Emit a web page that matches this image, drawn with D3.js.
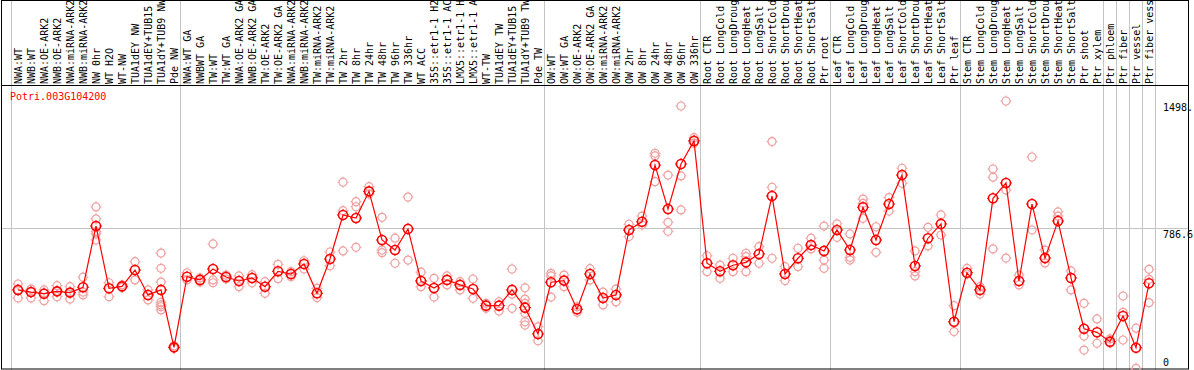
<!DOCTYPE html>
<html>
<head>
<meta charset="utf-8">
<script src="https://cdn.jsdelivr.net/npm/d3@7"></script>
<style>
  body { margin: 0; background: #fff; }
  svg { display: block; }
  text { font-family: "DejaVu Sans Mono", "Liberation Mono", monospace; font-size: 10px; }
</style>
</head>
<body>
<div class="expr"></div>
<script>
// gene plotted
var geneId = "Potri.003G104200";

// sample names, left to right (as far as they show in the header)
var samples = [
  "NWA:WT", "NWB:WT", "NWA:OE-ARK2", "NWB:OE-ARK2", "NWA:miRNA-ARK2", "NWB:miRNA-ARK2",
  "NW 0hr", "WT H2O", "WT-NW", "TUA1dEY NW", "TUA1dEY+TUB15", "TUA1dY+TUB9 NW", "Pde NW",
  "NWA:WT GA", "NWBWT GA", "TW:WT", "TW:WT GA", "NWA:OE-ARK2 GA", "NWB:OE-ARK2 GA",
  "TW:OE-ARK2", "TW:OE-ARK2 GA", "NWA:miRNA-ARK2", "NWB:miRNA-ARK2", "TW:miRNA-ARK2",
  "TW:miRNA-ARK2", "TW 2hr", "TW 8hr", "TW 24hr", "TW 48hr", "TW 96hr", "TW 336hr",
  "WT ACC", "35S::etr1-1 H2", "35S::etr1-1 AC", "LMX5::etr1-1 H", "LMX5::etr1-1 A",
  "WT-TW", "TUA1dEY TW", "TUA1dEY+TUB15", "TUA1dY+TUB9 TW", "Pde TW",
  "OW:WT", "OW:WT GA", "OW:OE-ARK2", "OW:OE-ARK2 GA", "OW:miRNA-ARK2", "OW:miRNA-ARK2",
  "OW 2hr", "OW 8hr", "OW 24hr", "OW 48hr", "OW 96hr", "OW 336hr",
  "Root CTR", "Root LongCold", "Root LongDroug", "Root LongHeat", "Root LongSalt",
  "Root ShortCold", "Root ShortDrou", "Root ShortHeat", "Root ShortSalt", "Ptr root",
  "Leaf CTR", "Leaf LongCold", "Leaf LongDroug", "Leaf LongHeat", "Leaf LongSalt",
  "Leaf ShortCold", "Leaf ShortDrou", "Leaf ShortHeat", "Leaf ShortSalt", "Ptr leaf",
  "Stem CTR", "Stem LongCold", "Stem LongDroug", "Stem LongHeat", "Stem LongSalt",
  "Stem ShortCold", "Stem ShortDrou", "Stem ShortHeat", "Stem ShortSalt", "Ptr shoot",
  "Ptr xylem", "Ptr phloem", "Ptr fiber", "Ptr vessel", "Ptr fiber vess"
];

// mean expression per sample
var means = [
  442, 430, 421, 434, 427, 457, 799, 451, 462, 553, 414, 442, 121,
  516, 498, 559, 514, 492, 509, 460, 546, 531, 587, 423, 615, 861, 844, 993,
  721, 665, 783, 492, 453, 498, 470, 447, 354, 354, 442, 343, 196,
  485, 494, 334, 531, 397, 414, 777, 823, 1140, 894, 1146, 1275,
  591, 546, 580, 596, 643, 967, 531, 619, 693, 660,
  777, 665, 904, 721, 922, 1084, 576, 731, 811, 264,
  538, 442, 954, 1040, 492, 922, 620, 827, 509, 225,
  205, 153, 296, 119, 479
];

// individual replicates per sample
var replicates = [
  [475, 442, 397], [447, 430, 397], [442, 425, 382], [466, 434, 404], [460, 427, 391],
  [513, 430, 414], [906, 839, 768, 755, 721], [482, 404], [470, 456], [600, 498],
  [442, 386], [648, 563, 486, 373, 358, 348, 330], [129, 117],
  [538, 498], [509, 486], [699, 498, 482], [525, 503], [520, 460], [527, 482],
  [488, 423], [585, 505], [544, 516], [605, 559], [451, 399], [654, 577],
  [1044, 885, 660], [935, 907, 680], [1019, 978], [848, 665, 650], [731, 591],
  [961, 609], [541, 460], [507, 402], [520, 470], [488, 442], [503, 395],
  [367, 339], [376, 324], [559, 418, 339], [454, 391, 367, 311, 264, 246], [236, 158],
  [535, 520, 402], [525, 460], [348, 317], [561, 498], [430, 358], [447, 375],
  [809, 740], [855, 805], [1206, 1191, 1047], [1084, 820, 770], [1470, 1079, 889], [1293, 1262],
  [633, 544], [581, 507], [619, 544], [647, 628, 544], [684, 591], [1271, 1016, 619],
  [572, 494], [675, 572], [731, 671], [799, 609, 563],
  [811, 736], [755, 624, 609], [950, 926, 842], [795, 652], [958, 883], [1122, 1038],
  [660, 544, 520], [792, 688], [861, 749], [354, 209],
  [563, 531], [460, 419], [1118, 1072, 671], [1498, 1000, 620], [525, 470], [1185, 777],
  [665, 593], [878, 855], [548, 442], [367, 184, 106],
  [280, 144], [168, 145], [408, 317, 162], [228, 4], [557, 501, 371]
];

// sample index where a new block starts (vertical separators)
var blockStarts = [0, 13, 41, 53, 63, 73, 84, 85, 86, 87, 88];

// right axis labels
var yTicks = [1498, 786.6, 0];
var yTickLabels = ["1498.", "786.6", "0"];

var W = 1194, H = 370;
var plotTop = 85, plotBottom = 369, left = 1.5, right = 1188.5;

var svg = d3.select('.expr')
    .append('svg')
    .attr("width", W)
    .attr("height", H);

var x = d3.scalePoint()
    .domain(d3.range(samples.length))
    .range([18, 1149]);

var step = x.step();

var y = d3.scaleLinear()
    .domain([0, 1498])
    .range([plotBottom, 101]);

// separators between sample blocks
svg.selectAll("line.sep")
    .data(blockStarts)
    .enter()
    .append("line")
    .attr("class", "sep")
    .attr("x1", function(d) { return Math.round(x(0) + (d - 0.5) * step) - 0.5; })
    .attr("x2", function(d) { return Math.round(x(0) + (d - 0.5) * step) - 0.5; })
    .attr("y1", 0)
    .attr("y2", H)
    .attr("stroke", "#c4c4c4")
    .attr("stroke-width", 1);

// horizontal mid gridline
svg.append("line")
    .attr("x1", left)
    .attr("x2", right)
    .attr("y1", Math.round(y(786.6)) + 0.5)
    .attr("y2", Math.round(y(786.6)) + 0.5)
    .attr("stroke", "#c4c4c4")
    .attr("stroke-width", 1);

// frame
svg.append("rect")
    .attr("x", left)
    .attr("y", 0.5)
    .attr("width", right - left)
    .attr("height", plotBottom - 0.5)
    .attr("fill", "none")
    .attr("stroke", "#000")
    .attr("stroke-width", 1);

svg.append("line")
    .attr("x1", left)
    .attr("x2", right)
    .attr("y1", plotTop + 0.5)
    .attr("y2", plotTop + 0.5)
    .attr("stroke", "#000");

// sample labels, vertical
svg.selectAll("text.sample")
    .data(samples)
    .enter()
    .append("text")
    .attr("class", "sample")
    .attr("transform", function(d, i) { return "translate(" + (x(i) + 3.5) + "," + 84 + ") rotate(-90)"; })
    .attr("fill", "#000")
    .text(function(d) { return d; });

// right axis labels
svg.selectAll("text.ytick")
    .data(yTicks)
    .enter()
    .append("text")
    .attr("class", "ytick")
    .attr("x", 1163)
    .attr("y", function(d) { return Math.min(y(d) + 9.5, plotBottom - 3); })
    .attr("fill", "#000")
    .text(function(d, i) { return yTickLabels[i]; });

// gene title
svg.append("text")
    .attr("x", 10)
    .attr("y", 100)
    .attr("fill", "#ff0000")
    .text(geneId);

// small circle marker with tick marks, like the original pixel glyph
function marker(g, r, color, sw) {
    g.append("circle")
        .attr("r", r)
        .attr("fill", "none")
        .attr("stroke", color)
        .attr("stroke-width", sw);
    g.append("path")
        .attr("d", "M0," + (-r - 1.5) + "V" + (-r) + "M0," + (r) + "V" + (r + 1.5) +
                   "M" + (-r - 1.5) + ",0H" + (-r) + "M" + r + ",0H" + (r + 1.5))
        .attr("stroke", color)
        .attr("stroke-width", 1);
}

// replicates
var repData = [];
replicates.forEach(function(reps, i) {
    reps.forEach(function(v) { repData.push({ i: i, v: v }); });
});

svg.selectAll("g.rep")
    .data(repData)
    .enter()
    .append("g")
    .attr("class", "rep")
    .attr("transform", function(d) { return "translate(" + x(d.i) + "," + y(d.v) + ")"; })
    .each(function() { marker(d3.select(this), 4, "#f0a0a0", 1.2); });

// mean line
var line = d3.line()
    .x(function(d, i) { return x(i); })
    .y(function(d) { return y(d); });

svg.append("path")
    .datum(means)
    .attr("d", line)
    .attr("fill", "none")
    .attr("stroke", "#ff0000")
    .attr("stroke-width", 1.2);

svg.selectAll("g.mean")
    .data(means)
    .enter()
    .append("g")
    .attr("class", "mean")
    .attr("transform", function(d, i) { return "translate(" + x(i) + "," + y(d) + ")"; })
    .each(function() { marker(d3.select(this), 4.5, "#ff0000", 1.6); });
</script>
</body>
</html>
